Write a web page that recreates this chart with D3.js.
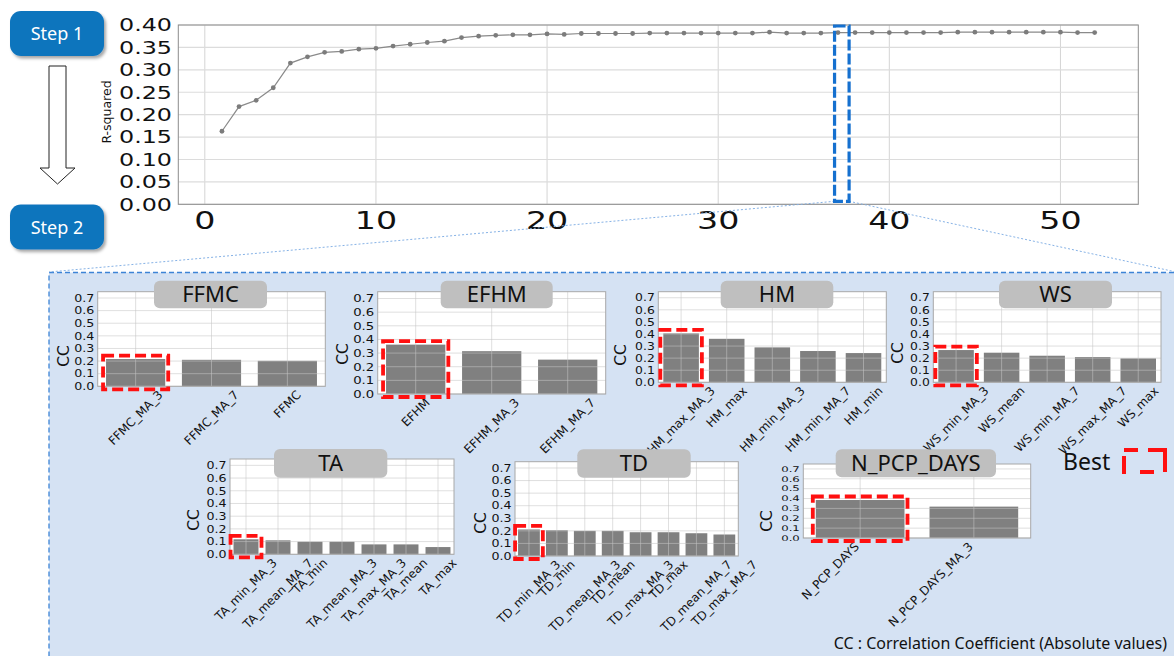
<!DOCTYPE html>
<html><head><meta charset="utf-8">
<script src="https://cdn.jsdelivr.net/npm/d3@7"></script>
<style>body{margin:0;background:#fff}svg{display:block}</style>
</head><body>
<svg id="c" width="1174" height="656"></svg>
<script>
// ---------- DATA ----------
const rsqSteps = [1,2,3,4,5,6,7,8,9,10,11,12,13,14,15,16,17,18,19,20,21,22,23,24,25,26,
  27,28,29,30,31,32,33,34,35,36,37,38,39,40,41,42,43,44,45,46,47,48,49,50,51,52];
const rsqValues = [0.163,0.218,0.232,0.260,0.315,0.329,0.339,0.341,0.346,0.348,0.353,0.357,
  0.361,0.364,0.372,0.375,0.377,0.378,0.378,0.380,0.379,0.381,0.381,0.381,0.381,0.382,
  0.382,0.382,0.382,0.382,0.382,0.382,0.384,0.382,0.382,0.382,0.383,0.383,0.383,0.383,
  0.383,0.383,0.383,0.384,0.384,0.384,0.384,0.384,0.384,0.384,0.383,0.383];
const rsqYTicks = [0,0.05,0.10,0.15,0.20,0.25,0.30,0.35,0.40];
const rsqXTicks = [0,10,20,30,40,50];
const selectedStep = 37;

const ccTicks = [0,0.1,0.2,0.3,0.4,0.5,0.6,0.7];

const ffmcLabels = ["FFMC_MA_3","FFMC_MA_7","FFMC"];
const ffmcCC     = [0.216,0.210,0.202];
const efhmLabels = ["EFHM","EFHM_MA_3","EFHM_MA_7"];
const efhmCC     = [0.362,0.314,0.252];
const hmLabels   = ["HM_max_MA_3","HM_max","HM_min_MA_3","HM_min_MA_7","HM_min"];
const hmCC       = [0.405,0.360,0.289,0.259,0.242];
const wsLabels   = ["WS_min_MA_3","WS_mean","WS_min_MA_7","WS_max_MA_7","WS_max"];
const wsCC       = [0.267,0.245,0.220,0.209,0.198];
const taLabels   = ["TA_min_MA_3","TA_mean_MA_7","TA_min","TA_mean_MA_3","TA_max_MA_3","TA_mean","TA_max"];
const taCC       = [0.118,0.110,0.099,0.099,0.078,0.078,0.057];
const tdLabels   = ["TD_min_MA_3","TD_min","TD_mean_MA_3","TD_mean","TD_max_MA_3","TD_max","TD_mean_MA_7","TD_max_MA_7"];
const tdCC       = [0.211,0.205,0.200,0.200,0.189,0.189,0.181,0.171];
const npcpLabels = ["N_PCP_DAYS","N_PCP_DAYS_MA_3"];
const npcpCC     = [0.385,0.318];

// ---------- helpers ----------
const svg = d3.select('#c');
const MPL = "'DejaVu Sans', sans-serif";
const PPT = "'Noto Sans', 'Noto Sans CJK KR', sans-serif";
function stretch(sel, sx){
  sel.each(function(){
    const L = this.getComputedTextLength();
    if (L > 0){ this.setAttribute('textLength', L*sx); this.setAttribute('lengthAdjust','spacingAndGlyphs'); }
  });
}
const defs = svg.append('defs');
const f = defs.append('filter').attr('id','sh').attr('x','-20%').attr('y','-20%').attr('width','150%').attr('height','160%');
f.append('feDropShadow').attr('dx',2).attr('dy',2.5).attr('stdDeviation',1.6).attr('flood-color','#000').attr('flood-opacity',0.35);

// ---------- Step 2 panel (behind) ----------
svg.append('rect').attr('x',49).attr('y',272.5).attr('width',1140).attr('height',400)
  .attr('fill','#d5e2f3').attr('stroke','#3d84d6').attr('stroke-width',1.3).attr('stroke-dasharray','5,3');

// ---------- main line chart ----------
const M = {l:178.3, r:1138.3, t:25, b:204.3};
const x = d3.scaleLinear().domain([-1.55, 54.55]).range([M.l, M.r]);
const y = d3.scaleLinear().domain([0, 0.40]).range([M.b, M.t]);
const gm = svg.append('g');
gm.append('rect').attr('x',M.l).attr('y',M.t).attr('width',M.r-M.l).attr('height',M.b-M.t).attr('fill','#fff');
gm.selectAll('line.gx').data(rsqXTicks).join('line')
  .attr('x1',d=>x(d)).attr('x2',d=>x(d)).attr('y1',M.t).attr('y2',M.b)
  .attr('stroke','#d4d4d4').attr('stroke-width',1);
gm.selectAll('line.gy').data(rsqYTicks).join('line').attr('class','gy')
  .attr('x1',M.l).attr('x2',M.r).attr('y1',d=>y(d)).attr('y2',d=>y(d))
  .attr('stroke','#dcdcdc').attr('stroke-width',1.2);
gm.append('rect').attr('x',M.l).attr('y',M.t).attr('width',M.r-M.l).attr('height',M.b-M.t)
  .attr('fill','none').attr('stroke','#8c8c8c').attr('stroke-width',1);
const pts = rsqSteps.map((s,i)=>[s, rsqValues[i]]);
gm.append('path').datum(pts)
  .attr('d', d3.line().x(d=>x(d[0])).y(d=>y(d[1])))
  .attr('fill','none').attr('stroke','#8a8a8a').attr('stroke-width',1.2);
gm.selectAll('circle').data(pts).join('circle')
  .attr('cx',d=>x(d[0])).attr('cy',d=>y(d[1])).attr('r',2.4).attr('fill','#7c7c7c');
const yt = gm.selectAll('text.yt').data(rsqYTicks).join('text').attr('class','yt')
  .attr('x',172).attr('y',d=>y(d)).attr('dy','0.36em').attr('text-anchor','end')
  .attr('font-family',MPL).attr('font-size',17.5).attr('fill','#111')
  .text(d=>d3.format('.2f')(d));
stretch(yt, 1.36);
const xt = gm.selectAll('text.xt').data(rsqXTicks).join('text').attr('class','xt')
  .attr('x',d=>x(d)).attr('y',229).attr('text-anchor','middle')
  .attr('font-family',MPL).attr('font-size',25).attr('fill','#111')
  .text(d=>d);
stretch(xt, 1.33);
gm.append('text').attr('transform','translate(111,112) rotate(-90)')
  .attr('text-anchor','middle').attr('font-family',MPL).attr('font-size',12.5).attr('fill','#111')
  .text('R-squared');

// selection box + connectors
const bx0 = x(selectedStep-0.2), bx1 = x(selectedStep+0.65);
svg.append('line').attr('x1',bx0).attr('y1',M.b-3).attr('x2',49).attr('y2',272)
  .attr('stroke','#86b2e6').attr('stroke-width',1).attr('stroke-dasharray','2,2');
svg.append('line').attr('x1',bx1).attr('y1',M.b-3).attr('x2',1174).attr('y2',271.5)
  .attr('stroke','#86b2e6').attr('stroke-width',1).attr('stroke-dasharray','2,2');
svg.append('rect').attr('x',bx0).attr('y',y(0.40)+1).attr('width',bx1-bx0).attr('height',M.b-3-(y(0.40)+1))
  .attr('fill','none').attr('stroke','#1570cf').attr('stroke-width',3.2).attr('stroke-dasharray','11,3');

// ---------- Step boxes + arrow ----------
[['Step 1',11],['Step 2',204.5]].forEach(([t,yy])=>{
  svg.append('rect').attr('x',10).attr('y',yy).attr('width',94).attr('height',45).attr('rx',11)
    .attr('fill','#0f74bd').attr('filter','url(#sh)');
  svg.append('text').attr('x',57).attr('y',yy+23).attr('dy','0.35em').attr('text-anchor','middle')
    .attr('font-family',PPT).attr('font-size',18).attr('fill','#fff').text(t);
});
svg.append('path').attr('d','M49,66 L66,66 L66,168 L75,168 L57.5,184 L40,168 L49,168 Z')
  .attr('fill','#fff').attr('stroke','#222').attr('stroke-width',1);

// ---------- small bar charts ----------
function smallChart(c){
  const g = svg.append('g');
  const n = c.labels.length;
  const sx = d3.scaleLinear().domain([-0.5, n-0.5]).range([c.l, c.r]);
  const sy = d3.scaleLinear().domain([0, 0.75]).range([c.b, c.t]);
  g.append('rect').attr('x',c.l).attr('y',c.t).attr('width',c.r-c.l).attr('height',c.b-c.t).attr('fill','#fff');
  g.selectAll('rect.bar').data(c.values).join('rect').attr('class','bar')
    .attr('x',(d,i)=>sx(i-0.39)).attr('width',sx(0.78)-sx(0))
    .attr('y',d=>sy(d)).attr('height',d=>sy(0)-sy(d)).attr('fill','#808080');
  g.selectAll('line.h').data(ccTicks).join('line').attr('class','h')
    .attr('x1',c.l).attr('x2',c.r).attr('y1',d=>sy(d)).attr('y2',d=>sy(d))
    .attr('stroke','#c4c4c4').attr('stroke-opacity',0.55).attr('stroke-width',1);
  g.selectAll('line.v').data(c.labels).join('line').attr('class','v')
    .attr('x1',(d,i)=>sx(i)).attr('x2',(d,i)=>sx(i)).attr('y1',c.t).attr('y2',c.b)
    .attr('stroke','#c4c4c4').attr('stroke-opacity',0.55).attr('stroke-width',1);
  g.append('rect').attr('x',c.l).attr('y',c.t).attr('width',c.r-c.l).attr('height',c.b-c.t)
    .attr('fill','none').attr('stroke','#a8a8a8').attr('stroke-width',1);
  const t = g.selectAll('text.yt').data(ccTicks).join('text').attr('class','yt')
    .attr('x',c.l-3.5).attr('y',d=>sy(d)).attr('dy','0.36em').attr('text-anchor','end')
    .attr('font-family',MPL).attr('font-size',c.tf).attr('fill','#111')
    .text(d=>d3.format('.1f')(d));
  stretch(t, c.tsx);
  const fs = 12;
  g.selectAll('text.xl').data(c.labels).join('text').attr('class','xl')
    .attr('font-family',MPL).attr('font-size',fs).attr('fill','#111')
    .attr('text-anchor','middle').attr('dominant-baseline','central')
    .text(d=>d)
    .each(function(d,i){
      const L = this.getComputedTextLength();
      const half = (L + 0.72*fs)/(2*Math.SQRT2);
      const cx = c.ha === 'right' ? sx(i) - half : sx(i);
      d3.select(this).attr('transform',`translate(${cx},${c.b+3.5+half}) rotate(-45)`);
    });
  // best box
  const bi = c.best, bv = c.values[bi];
  g.append('rect').attr('x',sx(bi-0.39)-3).attr('y',sy(bv)-3.5)
    .attr('width',sx(0.78)-sx(0)+6).attr('height',sy(0)-sy(bv)+6.5)
    .attr('fill','none').attr('stroke','#ff1010').attr('stroke-width',3.8).attr('stroke-dasharray','11,5');
  // title box
  g.append('rect').attr('x',c.tx[0]).attr('y',c.ty[0]).attr('width',c.tx[1]-c.tx[0]).attr('height',c.ty[1]-c.ty[0])
    .attr('rx',6).attr('fill','#bfbfbf');
  g.append('text').attr('x',(c.tx[0]+c.tx[1])/2).attr('y',(c.ty[0]+c.ty[1])/2).attr('dy','0.36em')
    .attr('text-anchor','middle').attr('font-family',PPT).attr('font-size',22).attr('fill','#111').text(c.title);
  g.append('text').attr('transform',`translate(${c.cc[0]},${c.cc[1]}) rotate(-90)`)
    .attr('text-anchor','middle').attr('dominant-baseline','central')
    .attr('font-family',MPL).attr('font-size',15.5).attr('fill','#111').text('CC');
}

const charts = [
  {title:'FFMC', labels:ffmcLabels, values:ffmcCC, best:0, l:97.7, r:325.3, t:291.7, b:386.3, tx:[154,267], ty:[280.7,308.3], cc:[64,356], tf:10.5, tsx:1.2},
  {title:'EFHM', labels:efhmLabels, values:efhmCC, best:0, l:377.7, r:605.7, t:291.7, b:394, tx:[440.7,552.7], ty:[280.7,308.3], cc:[343,354], tf:11, tsx:1.2},
  {title:'HM', labels:hmLabels, values:hmCC, best:0, l:658.3, r:886.3, t:291.7, b:382.3, tx:[720.7,833.3], ty:[280.7,308.3], cc:[621,355], tf:10.3, tsx:1.2},
  {title:'WS', labels:wsLabels, values:wsCC, best:0, l:933.3, r:1161, t:291.7, b:382.3, tx:[999,1112], ty:[280.7,308.3], cc:[898,353], tf:10.3, tsx:1.2},
  {title:'TA', labels:taLabels, values:taCC, best:0, l:230, r:454, t:459, b:554.3, tx:[274,387.3], ty:[449,477.7], cc:[194,520], tf:10.5, tsx:1.2},
  {title:'TD', labels:tdLabels, values:tdCC, best:0, l:515, r:738.3, t:461.7, b:556, tx:[577.3,690.7], ty:[449.3,477.7], cc:[481,523], tf:10.5, tsx:1.2},
  {title:'N_PCP_DAYS', labels:npcpLabels, values:npcpCC, best:0, ha:'right', l:803.3, r:1030.7, t:464, b:538, tx:[835.7,996], ty:[449.3,477.3], cc:[767,521], tf:7.8, tsx:1.5}
];
charts.forEach(smallChart);

// legend + footnote
svg.append('text').attr('x',1063).attr('y',469.5).attr('font-family',PPT).attr('font-size',23).attr('fill','#111').text('Best');
svg.append('rect').attr('x',1124).attr('y',450).attr('width',41).attr('height',22)
  .attr('fill','none').attr('stroke','#ff1010').attr('stroke-width',4)
  .attr('stroke-dasharray','14,10,39,11,14,14,18,6');
svg.append('text').attr('x',1167).attr('y',649).attr('text-anchor','end')
  .attr('font-family',PPT).attr('font-size',16).attr('fill','#111').text('CC : Correlation Coefficient (Absolute values)');
</script>
</body></html>
